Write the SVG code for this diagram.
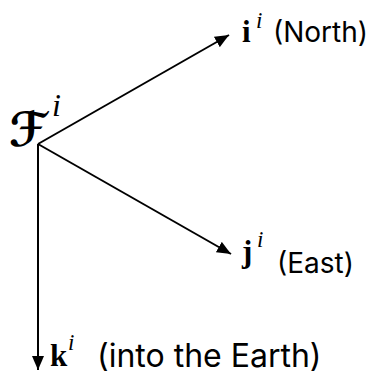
<svg xmlns="http://www.w3.org/2000/svg" width="370" height="375" viewBox="0 0 370 375">
<style>
.ax{stroke:#000;stroke-width:2;fill:none}
.lbl{font-family:Inter,"Noto Sans",sans-serif;font-size:28px;fill:#000}
.bv{font-family:"Liberation Serif","DejaVu Serif",serif;font-weight:bold;font-size:31px;fill:#000}
.sup{font-family:"Liberation Serif",serif;font-style:italic;font-size:23px;fill:#000}
.cal{font-family:"DejaVu Sans",sans-serif;font-weight:bold;font-size:47px;fill:#000}
</style>
<defs>
<marker id="ah" viewBox="0 0 14 12" refX="14" refY="6" markerWidth="14" markerHeight="12" markerUnits="userSpaceOnUse" orient="auto">
<path d="M0,0 L14,6 L0,12 Z" fill="#000"/>
</marker>
</defs>
<rect width="370" height="375" fill="#fff"/>
<g id="connectors">
<line class="ax" x1="38" y1="144" x2="229" y2="35" marker-end="url(#ah)"/>
<line class="ax" x1="38" y1="144" x2="231" y2="254" marker-end="url(#ah)"/>
<line class="ax" x1="38" y1="144" x2="38" y2="370" marker-end="url(#ah)"/>
</g>
<g id="origin">
<text class="cal" x="9" y="146">ℱ</text>
<text class="sup" x="52" y="116" style="font-size:32px">i</text>
</g>
<g id="north">
<text class="bv" x="242" y="42">i</text>
<text class="sup" x="256" y="28">i</text>
<text class="lbl" x="273" y="42">(North)</text>
</g>
<g id="east">
<text class="bv" x="242" y="262">j</text>
<text class="sup" x="257" y="247">i</text>
<text class="lbl" x="277" y="273">(East)</text>
</g>
<g id="down">
<text class="bv" x="50" y="366">k</text>
<text class="sup" x="68" y="350">i</text>
<text class="lbl" x="97" y="367" style="font-size:32px">(into the Earth)</text>
</g>
</svg>
